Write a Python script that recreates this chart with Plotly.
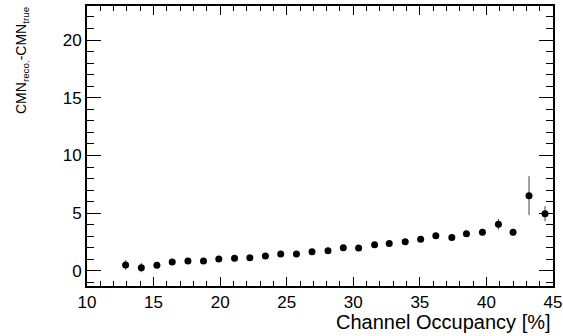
import plotly.graph_objects as go

occupancy = [12.9, 14.08, 15.25, 16.4, 17.58, 18.75, 19.9, 21.08, 22.23, 23.4,
             24.55, 25.73, 26.9, 28.1, 29.25, 30.4, 31.6, 32.7, 33.9, 35.06,
             36.2, 37.4, 38.5, 39.7, 40.9, 42.0, 43.2, 44.4]
cmn_diff = [0.52, 0.29, 0.49, 0.78, 0.87, 0.87, 1.04, 1.10, 1.15, 1.30,
            1.47, 1.47, 1.67, 1.76, 2.02, 1.99, 2.28, 2.37, 2.54, 2.74,
            3.06, 2.91, 3.23, 3.35, 4.04, 3.35, 6.52, 4.96]
cmn_err = [0.42, 0.40, 0.2, 0.15, 0.15, 0.15, 0.15, 0.15, 0.15, 0.15,
           0.15, 0.15, 0.15, 0.15, 0.15, 0.15, 0.15, 0.15, 0.15, 0.15,
           0.2, 0.2, 0.2, 0.3, 0.46, 0.3, 1.69, 0.65]
occ_err = [0.2] * 28

FONT = "Liberation Sans, Arial, sans-serif"

fig = go.Figure()
fig.add_trace(go.Scatter(
    x=occupancy, y=cmn_diff, mode="markers",
    marker=dict(color="black", size=7),
    error_y=dict(type="data", array=cmn_err, color="#444", thickness=1, width=0),
    error_x=dict(type="data", array=occ_err, color="#444", thickness=1, width=0),
    showlegend=False,
))

axis_common = dict(
    showline=True, linecolor="black", linewidth=2, mirror="ticks",
    ticks="inside", tickcolor="black", tickwidth=1,
    showgrid=False, zeroline=False, automargin=False,
    tickfont=dict(family=FONT, size=17, color="black"),
)
fig.update_xaxes(range=[10, 45], dtick=5, tick0=10, ticklen=9,
                 minor=dict(ticks="inside", dtick=1, ticklen=5, tickcolor="black"),
                 **axis_common)
fig.update_yaxes(range=[-1.3, 22.95], dtick=5, tick0=0, ticklen=14,
                 minor=dict(ticks="inside", dtick=1, ticklen=7, tickcolor="black"),
                 **axis_common)

fig.add_annotation(text="Channel Occupancy [%]", xref="paper", yref="paper",
                   x=1.0, y=0, xanchor="right", yanchor="top", yshift=-23,
                   showarrow=False, font=dict(family=FONT, size=20, color="black"))
fig.add_annotation(text="CMN<sub>reco.</sub>-CMN<sub>true</sub>", xref="paper", yref="paper",
                   x=0, y=1.0, xanchor="center", yanchor="top", xshift=-65, yshift=2,
                   textangle=-90, showarrow=False,
                   font=dict(family=FONT, size=14, color="black"))

fig.update_layout(
    width=563, height=336,
    margin=dict(l=87, r=10, t=6, b=50),
    paper_bgcolor="white", plot_bgcolor="white",
)
fig.write_html("out.html", config={"displayModeBar": False},
               post_script="document.body.style.margin='0px';")
